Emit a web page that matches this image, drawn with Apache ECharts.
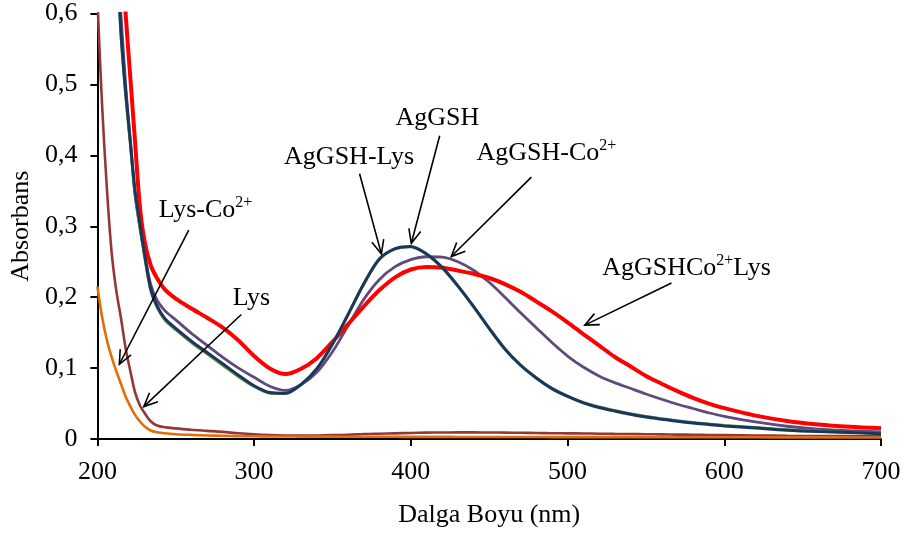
<!DOCTYPE html>
<html>
<head>
<meta charset="utf-8">
<script src="https://cdn.jsdelivr.net/npm/echarts@6/dist/echarts.min.js"></script>
<style>
  html, body { margin: 0; padding: 0; background: #fff; }
  #chart { width: 904px; height: 533px; }
</style>
</head>
<body>
<div id="chart"></div>
<script>
// UV-Vis absorbance spectra (wavelength in nm)
const wavelength = [200,203,206,209,212,215,218,221,224,227,230,234,238,243,250,260,270,280,290,300,
  310,320,330,340,350,360,370,380,390,400,
  410,420,430,440,450,460,470,480,490,500,
  510,520,530,540,550,560,570,580,590,600,
  620,640,660,680,700];

const agGSH = [1.6,1.35,1.12,0.92,0.72,0.575,0.49,0.42,0.35,0.305,0.262,0.212,0.188,0.170,0.156,0.138,0.122,0.106,0.090,0.075,
  0.0655,0.0645,0.077,0.099,0.134,0.176,0.219,0.254,0.2685,0.2715,
  0.261,0.242,0.216,0.187,0.156,0.127,0.104,0.086,0.071,0.060,
  0.051,0.0445,0.0395,0.035,0.031,0.028,0.025,0.0225,0.0205,0.0185,
  0.0155,0.0125,0.0105,0.009,0.0075];

const agGSHLys = [1.58,1.33,1.1,0.9,0.71,0.57,0.485,0.415,0.345,0.300,0.258,0.209,0.186,0.168,0.154,0.136,0.120,0.104,0.088,0.074,
  0.0645,0.064,0.0768,0.0985,0.1335,0.1755,0.2185,0.2535,0.268,0.271,
  0.2605,0.2415,0.2155,0.1866,0.1558,0.127,0.1045,0.0866,0.0716,0.0606,
  0.0516,0.0452,0.0402,0.0357,0.0318,0.0288,0.0258,0.0233,0.0213,0.0193,
  0.0162,0.0131,0.011,0.0094,0.0079];

const agGSHCo = [1.55,1.3,1.08,0.88,0.70,0.60,0.50,0.42,0.345,0.300,0.262,0.218,0.196,0.181,0.168,0.149,0.132,0.115,0.100,0.087,
  0.0745,0.0685,0.0765,0.094,0.123,0.160,0.197,0.225,0.243,0.253,
  0.257,0.2565,0.250,0.238,0.221,0.200,0.178,0.157,0.136,0.117,
  0.1015,0.089,0.0795,0.0715,0.0635,0.056,0.049,0.043,0.037,0.032,
  0.024,0.018,0.014,0.0118,0.010];

const agGSHCoLys = [1.8,1.55,1.3,1.08,0.88,0.72,0.60,0.51,0.42,0.33,0.28,0.245,0.227,0.211,0.198,0.184,0.171,0.157,0.139,0.117,
  0.0995,0.0915,0.099,0.114,0.137,0.162,0.187,0.210,0.228,0.239,
  0.2425,0.2415,0.2375,0.233,0.227,0.2185,0.2075,0.194,0.180,0.1645,
  0.148,0.132,0.116,0.1025,0.089,0.078,0.0675,0.058,0.050,0.0435,
  0.033,0.0255,0.0205,0.0172,0.015];

const lysCo = [0.62,0.47,0.355,0.265,0.21,0.171,0.128,0.096,0.066,0.048,0.037,0.025,0.019,0.0165,0.015,0.013,0.0115,0.010,0.008,0.0065,
  0.0055,0.005,0.0048,0.005,0.0055,0.006,0.007,0.0075,0.008,0.0085,
  0.009,0.0092,0.0093,0.0093,0.0092,0.009,0.0088,0.0085,0.0082,0.008,
  0.0078,0.0075,0.0072,0.007,0.0068,0.0065,0.0062,0.006,0.0057,0.0055,
  0.005,0.0045,0.0042,0.004,0.0038];

const lys = [0.215,0.172,0.140,0.116,0.096,0.078,0.060,0.046,0.034,0.025,0.018,0.012,0.0095,0.008,0.0068,0.0058,0.005,0.0045,0.004,0.0038,
  0.0036,0.0035,0.0034,0.0033,0.0033,0.0032,0.0032,0.0031,0.0031,0.003,
  0.003,0.003,0.0029,0.0029,0.0029,0.0028,0.0028,0.0028,0.0027,0.0027,
  0.0027,0.0026,0.0026,0.0026,0.0025,0.0025,0.0025,0.0025,0.0024,0.0024,
  0.0024,0.0023,0.0023,0.0022,0.0022];

// Callout labels: text (rich markup), label centre, arrow tail and arrow tip (nm, absorbance)
const noteText = ['{n|Lys-Co}{s|2+}', '{n|Lys}', '{n|AgGSH-Lys}', '{n|AgGSH}', '{n|AgGSH-Co}{s|2+}', '{n|AgGSHCo}{s|2+}{n|Lys}'];
const noteAt = [[269, 0.324], [298.3, 0.200], [360.6, 0.399], [416.9, 0.4545], [486.5, 0.4048], [575.9, 0.2423]];
const arrowTail = [[258.3, 0.2945], [291.8, 0.1755], [367.3, 0.374], [418.4, 0.4276], [476.9, 0.3693], [566.3, 0.2199]];
const arrowTip = [[214, 0.1054], [229.6, 0.0457], [381.2, 0.261], [400.3, 0.276], [425.8, 0.2573], [511, 0.1606]];

const yTicks = ['0', '0,1', '0,2', '0,3', '0,4', '0,5', '0,6'];

const FONT = "'Liberation Serif', 'Times New Roman', serif";
const FS = 26;

function pairs(vals) { return wavelength.map((w, i) => [w, vals[i]]); }

function spectrum(name, vals, color, width) {
  return {
    name, type: 'line', data: pairs(vals), showSymbol: false, symbol: 'none',
    smooth: 0.3, clip: true,
    lineStyle: { color, width }, itemStyle: { color },
    z: 2
  };
}

const chart = echarts.init(document.getElementById('chart'), null, { renderer: 'canvas' });

chart.setOption({
  animation: false,
  backgroundColor: '#fff',
  grid: { left: 97, right: 23, top: 13.5, bottom: 91 },
  xAxis: {
    type: 'value', min: 200, max: 700, interval: 100,
    name: 'Dalga Boyu (nm)', nameLocation: 'middle', nameGap: 63,
    nameTextStyle: { fontFamily: FONT, fontSize: FS, color: '#000' },
    axisLine: { show: true, onZero: false, lineStyle: { color: '#000', width: 2 } },
    axisTick: { show: true, length: 7, lineStyle: { color: '#000', width: 2 } },
    axisLabel: { fontFamily: FONT, fontSize: FS, color: '#000', margin: 20 },
    splitLine: { show: false }
  },
  yAxis: {
    type: 'value', min: 0, max: 0.6, interval: 0.1,
    name: 'Absorbans', nameLocation: 'middle', nameGap: 62, nameRotate: 90,
    nameTextStyle: { fontFamily: FONT, fontSize: FS, color: '#000' },
    axisLine: { show: true, lineStyle: { color: '#000', width: 2 } },
    axisTick: { show: true, length: 7, lineStyle: { color: '#000', width: 2 } },
    axisLabel: {
      fontFamily: FONT, fontSize: FS, color: '#000', margin: 20,
      formatter: v => yTicks[Math.round(v * 10)]
    },
    splitLine: { show: false }
  },
  series: [
    spectrum('Lys-Co2+', lysCo, '#953735', 2.6),
    spectrum('Lys', lys, '#E46C0A', 2.6),
    spectrum('AgGSH-Co2+', agGSHCo, '#604A7B', 2.8),
    spectrum('AgGSHCo2+Lys', agGSHCoLys, '#FF0000', 4),
    spectrum('AgGSH-Lys', agGSHLys, '#77933C', 2.8),
    spectrum('AgGSH', agGSH, '#17375E', 3),
    {
      name: 'arrows', type: 'custom', silent: true, z: 5, clip: false,
      data: arrowTail.map((t, i) => [t[0], t[1], arrowTip[i][0], arrowTip[i][1]]),
      encode: { x: [0, 2], y: [1, 3] },
      renderItem(params, api) {
        const t = api.coord([api.value(0), api.value(1)]);
        const h = api.coord([api.value(2), api.value(3)]);
        const ang = Math.atan2(t[1] - h[1], t[0] - h[0]);
        const L = 15, a = 0.42;
        const p1 = [h[0] + L * Math.cos(ang + a), h[1] + L * Math.sin(ang + a)];
        const p2 = [h[0] + L * Math.cos(ang - a), h[1] + L * Math.sin(ang - a)];
        return {
          type: 'group',
          children: [
            { type: 'line', shape: { x1: t[0], y1: t[1], x2: h[0], y2: h[1] }, style: { stroke: '#000', lineWidth: 1.6 } },
            { type: 'polyline', shape: { points: [p1, h, p2] }, style: { stroke: '#000', fill: null, lineWidth: 1.6 } }
          ]
        };
      }
    },
    {
      name: 'labels', type: 'custom', silent: true, z: 6, clip: false,
      data: noteAt.map(p => [p[0], p[1]]),
      renderItem(params, api) {
        const c = api.coord([api.value(0), api.value(1)]);
        return {
          type: 'text',
          style: {
            text: noteText[params.dataIndex],
            x: c[0], y: c[1], align: 'center', verticalAlign: 'middle',
            rich: {
              n: { fontFamily: FONT, fontSize: FS, color: '#000', lineHeight: 28, verticalAlign: 'bottom' },
              s: { fontFamily: FONT, fontSize: 16, color: '#000', lineHeight: 28, verticalAlign: 'top' }
            }
          }
        };
      }
    }
  ]
});
</script>
</body>
</html>
